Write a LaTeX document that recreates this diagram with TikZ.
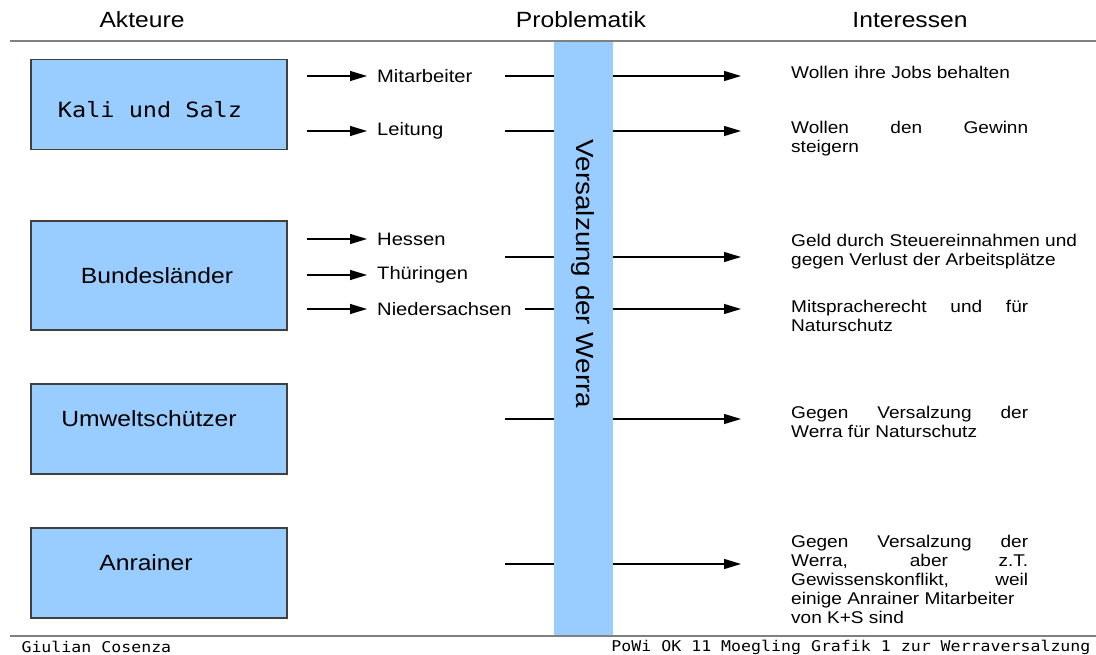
\documentclass[tikz,border=0pt]{standalone}
\usepackage{fontspec}
\setmainfont[FakeStretch=1.12]{Liberation Sans}
\newfontfamily\monofont[FakeStretch=1.12]{DejaVu Sans Mono}
\usetikzlibrary{arrows.meta,positioning}

\definecolor{barblue}{HTML}{99CCFF}
\definecolor{rulegray}{HTML}{808080}

% justified line of the interest column
\newcommand{\jline}[1]{\makebox[237pt][s]{#1}}

\begin{document}
\begin{tikzpicture}[x=1pt, y=-1pt,
    % --- Styles ---
    head/.style={font=\fontsize{22}{26}\selectfont},
    actor/.style={draw=black!75, fill=barblue, line width=1.1pt,
                  minimum width=256pt, minimum height=90pt, inner sep=0pt},
    actname/.style={font=\fontsize{22}{26}\selectfont},
    mononame/.style={font=\monofont\fontsize{21}{25}\selectfont},
    bar/.style={fill=barblue, minimum width=59pt, minimum height=595pt, inner sep=0pt},
    part/.style={anchor=west, inner xsep=10pt, inner ysep=0pt,
                 font=\fontsize{18}{21}\selectfont},
    interest/.style={anchor=north west, inner sep=0pt, align=left,
                     font=\fontsize{17}{19}\selectfont},
    flow/.style={-{Triangle[length=17pt,width=10pt]}, line width=1.2pt},
    link/.style={line width=1.2pt},
    rulebar/.style={rulegray, line width=1.8pt},
    foot/.style={font=\monofont\fontsize{14.8}{17}\selectfont},
]
\useasboundingbox (0,0) rectangle (1096,655);

% === Problem bar ===
\node[bar] (werra) at (583.5,338.5) {};
\node[rotate=-90, font=\fontsize{24.8}{28}\selectfont] (werratext) at (583,274) {Versalzung der Werra};

% === Headings ===
\node[head] (akteure) at (142,20) {Akteure};
\node[head] (problem) at (581,20) {Problematik};
\node[head] (interessen) at (910,20) {Interessen};
\draw[rulebar] (10,41) -- (1096,41);

% === Actors ===
\node[actor] (kali) at (159,104.5) {};
\node[mononame] (kalitext) at (150,110) {Kali und Salz};
\node[actor, minimum height=109pt] (laender) at (159,275.5) {};
\node[actname] (laendertext) at (157,276) {Bundesländer};
\node[actor] (umwelt) at (159,429) {};
\node[actname] (umwelttext) at (149,419) {Umweltschützer};
\node[actor] (anrainer) at (159,573) {};
\node[actname] (anrainertext) at (146,563) {Anrainer};

% === Parts of the actors ===
\coordinate (lstart) at (307,0);
\node[part] (mitarb) at (367,76) {Mitarbeiter};
\node[part] (leitung) at (367,131) {Leitung};
\node[part] (hessen) at (367,239) {Hessen};
\node[part] (thuer) at (367,275) {Thüringen};
\node[part] (nieder) at (367,309) {Niedersachsen};
\foreach \n in {mitarb,leitung,hessen,thuer,nieder}
  \draw[flow] (lstart |- \n.west) -- (\n.west);

% === Through the problem ===
\coordinate (rtip) at (741,0);
\coordinate (m1) at (505,76);
\coordinate (m2) at (505,131);
\coordinate (m3) at (505,257);
\coordinate (m4) at (525,309);
\coordinate (m5) at (505,419);
\coordinate (m6) at (505,564);
\foreach \m in {m1,m2,m3,m4,m5,m6} {
  \draw[link] (\m) -- (\m -| werra.west);
  \draw[flow] (\m -| werra.east) -- (\m -| rtip);
}

% === Interests ===
\node[interest] (i1) at (791,66) {Wollen ihre Jobs behalten};
\node[interest] (i2) at (791,121) {\jline{Wollen den Gewinn}\\steigern};
\node[interest] (i3) at (791,234) {Geld durch Steuereinnahmen und\\gegen Verlust der Arbeitsplätze};
\node[interest] (i4) at (791,300) {\jline{Mitspracherecht und für}\\Naturschutz};
\node[interest] (i5) at (791,406) {\jline{Gegen Versalzung der}\\Werra für Naturschutz};
\node[interest] (i6) at (791,535) {\jline{Gegen Versalzung der}\\\jline{Werra, aber z.T.}\\
  \jline{Gewissenskonflikt, weil}\\einige Anrainer Mitarbeiter\\von K+S sind};

% === Footer ===
\draw[rulebar] (10,636) -- (1096,636);
\node[foot, anchor=west] (author) at (18,647) {Giulian Cosenza};
\node[foot, anchor=east] (course) at (1094,647) {PoWi OK 11 Moegling Grafik 1 zur Werraversalzung};

\end{tikzpicture}
\end{document}
